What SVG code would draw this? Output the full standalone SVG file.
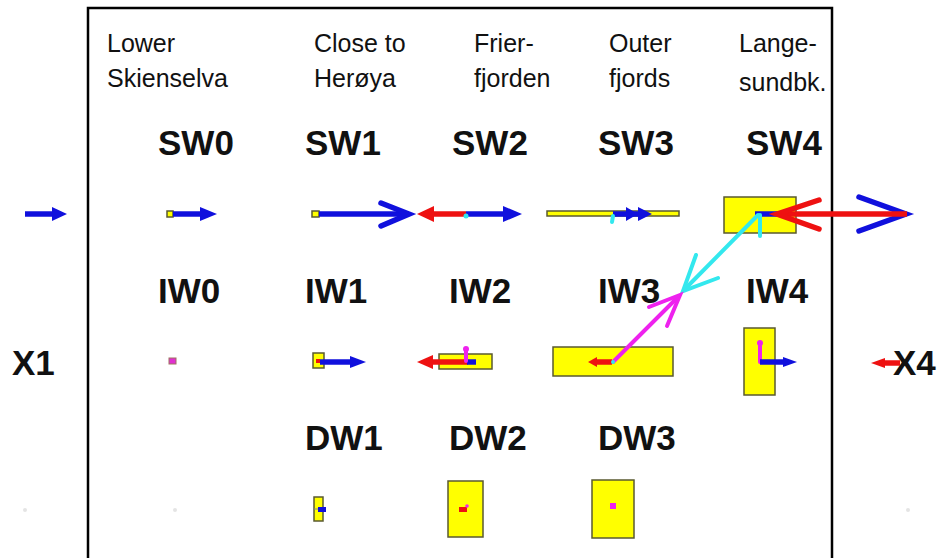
<svg xmlns="http://www.w3.org/2000/svg" width="940" height="558" viewBox="0 0 940 558">
<style>
.hdr{font-family:"Liberation Sans",Arial,sans-serif;font-size:25px;fill:#111}
.lbl{font-family:"Liberation Sans",Arial,sans-serif;font-size:35px;font-weight:bold;fill:#111}
.box{fill:#ffff00;stroke:#5a5a30;stroke-width:1.5}
.bl{stroke:#1010dd;fill:none;stroke-width:5.5}
.blf{fill:#1010dd}
.rd{stroke:#ee1111;fill:none;stroke-width:5.5}
.rdf{fill:#ee1111}
.cy{stroke:#33e8ee;fill:none;stroke-width:4;stroke-linecap:round}
.cyf{fill:#33e8ee}
.mg{stroke:#ee22ee;fill:none;stroke-width:4;stroke-linecap:round}
.mgf{fill:#ee22ee}
.chev{stroke-linecap:round;stroke-linejoin:miter}
.speck{fill:#e4e4e4}
</style>
<rect width="940" height="558" fill="#ffffff"/>
<path d="M88,558 V8 H832 V558" fill="none" stroke="#000" stroke-width="2.5"/>

<g id="headers">
<text class="hdr" x="107" y="52">Lower</text>
<text class="hdr" x="107" y="87">Skienselva</text>
<text class="hdr" x="314" y="52">Close to</text>
<text class="hdr" x="314" y="87">Herøya</text>
<text class="hdr" x="474" y="52">Frier-</text>
<text class="hdr" x="474" y="87">fjorden</text>
<text class="hdr" x="609" y="52">Outer</text>
<text class="hdr" x="609" y="87">fjords</text>
<text class="hdr" x="739" y="52">Lange-</text>
<text class="hdr" x="739" y="91">sundbk.</text>
</g>

<g id="SW0"><text class="lbl" x="158" y="155">SW0</text><rect class="box" x="167" y="211" width="6" height="6"/></g>
<g id="SW1"><text class="lbl" x="305" y="155">SW1</text><rect class="box" x="312" y="211" width="7" height="6"/></g>
<g id="SW2"><text class="lbl" x="452" y="155">SW2</text></g>
<g id="SW3"><text class="lbl" x="598" y="155">SW3</text><rect class="box" x="547" y="211" width="132" height="5"/></g>
<g id="SW4"><text class="lbl" x="746" y="155">SW4</text><rect class="box" x="724" y="197" width="72" height="36"/></g>
<g id="IW0"><text class="lbl" x="158" y="303">IW0</text><rect x="169" y="358" width="7" height="6" fill="#e030d0" stroke="#a07060" stroke-width="1"/></g>
<g id="IW1"><text class="lbl" x="305" y="303">IW1</text><rect class="box" x="313" y="353" width="11" height="15"/><rect x="316" y="359" width="4" height="4" class="rdf"/></g>
<g id="IW2"><text class="lbl" x="449" y="303">IW2</text><rect class="box" x="439" y="354" width="53" height="15"/></g>
<g id="IW3"><text class="lbl" x="598" y="303">IW3</text><rect class="box" x="553" y="347" width="120" height="29"/></g>
<g id="IW4"><text class="lbl" x="746" y="303">IW4</text><rect class="box" x="744" y="328" width="31" height="67"/></g>
<g id="DW1"><text class="lbl" x="305" y="450">DW1</text><rect class="box" x="314" y="497" width="9" height="24"/><rect x="318" y="507" width="8" height="5" class="blf"/></g>
<g id="DW2"><text class="lbl" x="449" y="450">DW2</text><rect class="box" x="448" y="481" width="35" height="56"/><rect x="459" y="507" width="8" height="5" class="rdf"/><circle cx="467" cy="506" r="1.8" class="mgf"/></g>
<g id="DW3"><text class="lbl" x="598" y="450">DW3</text><rect class="box" x="592" y="480" width="42" height="58"/><rect x="610" y="503" width="6" height="6" class="mgf"/></g>

<g id="connectors">
<line class="bl" x1="25" y1="214" x2="54" y2="214"/>
<polygon class="blf" points="52,207 67,214 52,221"/>
<line class="bl" x1="173" y1="214" x2="202" y2="214"/>
<polygon class="blf" points="200,207 217,214 200,221"/>
<line class="bl" x1="319" y1="214" x2="407" y2="214"/>
<polyline class="bl chev" points="381,203 409,214 381,226"/>
<polygon class="rdf" points="417,214 434,206 434,222"/>
<line class="rd" x1="432" y1="214" x2="466" y2="214"/>
<line class="bl" x1="466" y1="214" x2="505" y2="214"/>
<polygon class="blf" points="503,206 522,214 503,222"/>
<circle cx="466" cy="216" r="2.5" class="cyf"/>
<line class="bl" x1="613" y1="214" x2="645" y2="214" stroke-width="4.5"/>
<polygon class="blf" points="626,207 638,214 626,221"/>
<polygon class="blf" points="638,207 652,214 638,221"/>
<line class="cy" x1="613" y1="216" x2="612" y2="222" stroke-width="3.5"/>
<line class="bl" x1="755" y1="214" x2="778" y2="214" stroke-width="4.5"/>
<polyline class="bl chev" points="859,197 906,214 859,231"/>
<line class="rd" x1="777" y1="214" x2="907" y2="214"/>
<polyline class="rd chev" points="819,200 777,214 819,229"/>
<line class="cy" x1="760" y1="215" x2="760" y2="236"/>
<line class="cy" x1="758" y1="215" x2="684" y2="290"/>
<polyline class="cy" points="696,255 683,291 718,278"/>
<line class="mg" x1="613" y1="362" x2="679" y2="296"/>
<polyline class="mg" points="649,307 680,295 667,326"/>
<line class="rd" x1="612" y1="362" x2="595" y2="362" stroke-width="4.5"/>
<polygon class="rdf" points="588,362 597,357 597,367"/>
<circle cx="613" cy="362" r="2" class="cyf"/>
<line class="rd" x1="468" y1="362" x2="430" y2="362"/>
<polygon class="rdf" points="417,362 433,355 433,369"/>
<line class="bl" x1="467" y1="362" x2="476" y2="362"/>
<line class="mg" x1="466" y1="361" x2="466" y2="351"/>
<circle cx="466" cy="349" r="3" class="mgf"/>
<line class="bl" x1="320" y1="362" x2="352" y2="362"/>
<polygon class="blf" points="350,356 366,362 350,368"/>
<line class="mg" x1="760" y1="362" x2="760" y2="346"/>
<circle cx="760" cy="343" r="3" class="mgf"/>
<line class="bl" x1="760" y1="362" x2="785" y2="362" stroke-width="4.5"/>
<polygon class="blf" points="783,357 797,362 783,367"/>
<line class="rd" x1="884" y1="363" x2="900" y2="363" stroke-width="4.5"/>
<polygon class="rdf" points="871,363 885,358 885,368"/>
<line x1="314" y1="509" x2="318" y2="509" stroke="#888" stroke-width="1"/>
</g>

<g id="X1"><text class="lbl" x="12" y="375">X1</text></g>
<g id="X4"><text class="lbl" x="893" y="375">X4</text></g>

<g id="specks">
<circle cx="25" cy="510" r="2" class="speck"/>
<circle cx="175" cy="510" r="2" class="speck"/>
<circle cx="908" cy="510" r="2" class="speck"/>
</g>
</svg>
